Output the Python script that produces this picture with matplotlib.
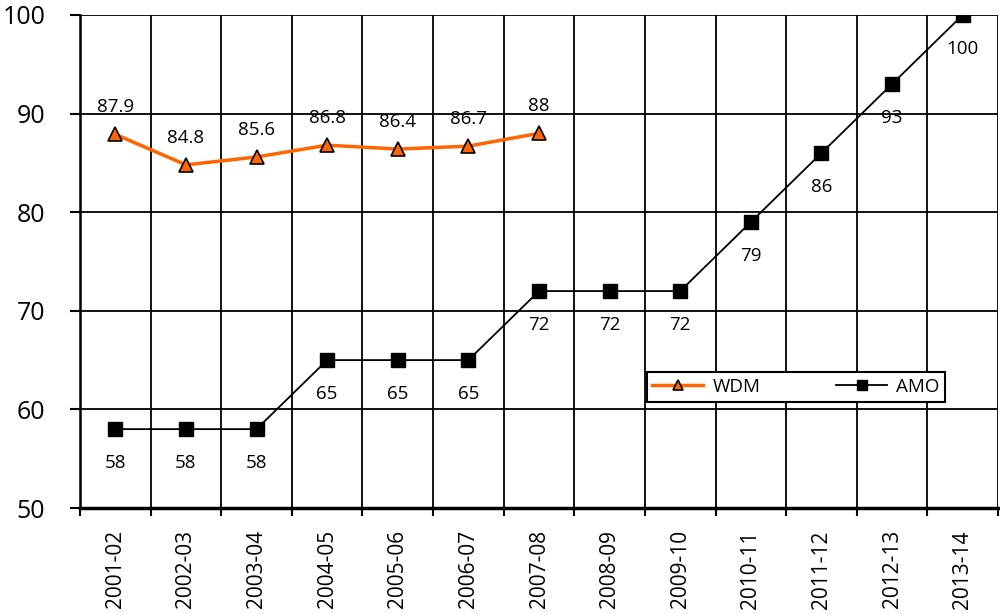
import numpy as np
import matplotlib.pyplot as plt
from matplotlib.ticker import FixedLocator

plt.rcParams['font.family'] = ['Open Sans', 'DejaVu Sans']

years = ['2001-02', '2002-03', '2003-04', '2004-05', '2005-06', '2006-07', '2007-08',
         '2008-09', '2009-10', '2010-11', '2011-12', '2012-13', '2013-14']
wdm = [87.9, 84.8, 85.6, 86.8, 86.4, 86.7, 88]
amo = [58, 58, 58, 65, 65, 65, 72, 72, 72, 79, 86, 93, 100]
wdm_labels = ['87.9', '84.8', '85.6', '86.8', '86.4', '86.7', '88']

x = np.arange(len(years))

fig = plt.figure(figsize=(10, 6.14), dpi=100)
ax = fig.add_axes([0.08, 1 - 508 / 614, 0.918, 493 / 614])

ax.plot(x[:len(wdm)], wdm, color='#FF6600', lw=2.5, marker='^', markersize=10,
        markerfacecolor='#FF6600', markeredgecolor='black', markeredgewidth=1.2,
        label='WDM', zorder=4)
ax.plot(x, amo, color='black', lw=1.3, marker='s', markersize=9.5,
        markerfacecolor='black', label='AMO', zorder=4)

for xi, v, t in zip(x, wdm, wdm_labels):
    ax.annotate(t, (xi, v), xytext=(0, 13), textcoords='offset points',
                ha='center', va='bottom', fontsize=13.5)
for xi, v in zip(x, amo):
    ax.annotate(str(v), (xi, v), xytext=(0, -18), textcoords='offset points',
                ha='center', va='top', fontsize=13.5)

ax.set_xlim(-0.5, len(years) - 0.5)
ax.set_ylim(50, 100)
ax.set_yticks(np.arange(50, 101, 10))
ax.set_xticks(x)
ax.set_xticklabels(years, rotation=90, fontsize=15)
ax.xaxis.set_minor_locator(FixedLocator(np.arange(-0.5, len(years), 1)))
ax.tick_params(axis='x', which='major', length=0, pad=16)
ax.tick_params(axis='x', which='minor', length=6, width=1.5, color='black')
ax.tick_params(axis='y', length=7, width=1.5, labelsize=18, pad=18)

ax.grid(True, axis='y', color='black', lw=1.3)
ax.grid(True, axis='x', which='minor', color='black', lw=1.3)
for s in ['top', 'right']:
    ax.spines[s].set_visible(False)
ax.spines['left'].set_linewidth(1.8)
ax.spines['bottom'].set_linewidth(2.5)

leg = ax.legend(loc='lower left', bbox_to_anchor=(0.607, 0.197, 0.346, 0.075),
                mode='expand', ncol=2, fontsize=13.5, fancybox=False,
                edgecolor='black', framealpha=1, handlelength=2.7,
                handletextpad=0.5, markerscale=0.75, borderpad=0.3)
leg.get_frame().set_linewidth(1.5)

fig.savefig('out.png', dpi=100)
